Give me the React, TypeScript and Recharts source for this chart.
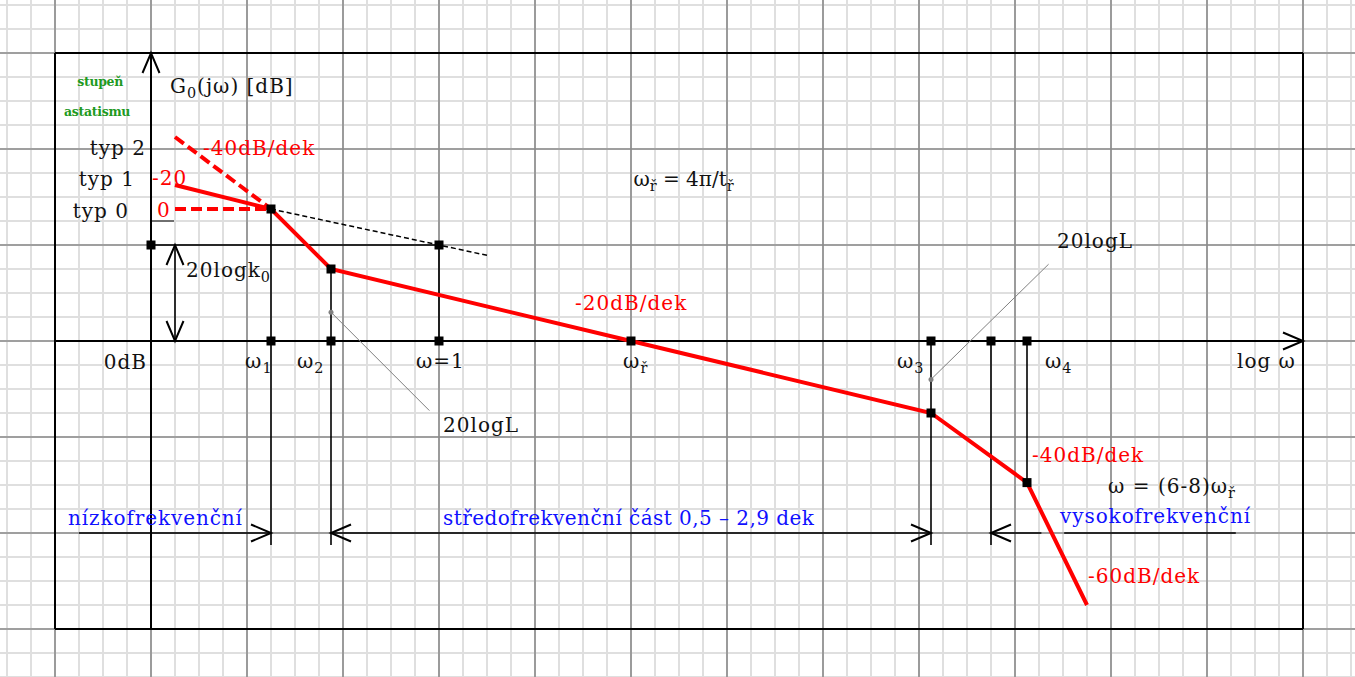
import React from 'react';
import { ComposedChart, XAxis, YAxis, Line, Scatter, ReferenceLine } from 'recharts';

// Units: one small grid cell in both directions, origin where the axes cross.
// u runs along log ω, v along the magnitude in dB.
const WIDTH = 1355;
const HEIGHT = 677;
const CELL = 24;
const ORIGIN_X = 151;
const ORIGIN_Y = 341;

// asymptotic magnitude plot of the open loop
const bodeU = [1, 5, 7.5, 20, 32.5, 36.5, 39];
const bodeV = [6.5, 5.5, 3, 0, -3, -5.9, -11];

// low-frequency variants (type 0 and type 2 systems)
const typ0U = [1, 5];
const typ0V = [5.5, 5.5];
const typ2U = [1, 5];
const typ2V = [8.5, 5.5];

// -20 dB/dek extension through ω = 1
const k0U = [5, 14];
const k0V = [5.5, 3.57];

// marked points
const markU = [0, 12, 5, 5, 7.5, 7.5, 12, 20, 32.5, 32.5, 35, 36.5, 36.5];
const markV = [4, 4, 5.5, 0, 3, 0, 0, 0, 0, -3, 0, 0, -5.9];

// vertical drop lines from the corner frequencies
const dropU = [5, 7.5, 12, 32.5, 35, 36.5];
const dropTop = [5.5, 3, 4, 0, 0, 0];
const dropBottom = [-8.5, -8.5, 0, -8.5, -8.5, -5.9];

// leaders pointing at 20logL
const leaderU = [[7.5, 11.6], [32.5, 37.4]];
const leaderV = [[1.2, -2.9], [-1.6, 3.2]];

// frequency band ranges along the bottom
const bandV = -8;
const bandU = [[-3, 5], [7.5, 32.5], [35, 37.1], [38.05, 45.2]];
const bandArrowRight = [5, 32.5];
const bandArrowLeft = [7.5, 35];

// plot frame
const frameU = [-4, 48];
const frameV = [-12, 12];

const labelText = [
  'stupeň', 'astatismu', 'G_0(jω) [dB]', 'typ 2', 'typ 1', 'typ 0', '-40dB/dek', '-20', '0',
  'ω_ř = 4π/t_ř', '20logk_0', '0dB', 'ω_1', 'ω_2', 'ω=1', 'ω_ř', 'ω_3', 'ω_4', 'log ω',
  '-20dB/dek', '20logL', '20logL', '-40dB/dek', 'ω = (6-8)ω_ř',
  'nízkofrekvenční', 'středofrekvenční část 0,5 – 2,9 dek', 'vysokofrekvenční', '-60dB/dek',
];
const labelU = [
  -2.12, -2.25, 0.79, -0.21, -0.67, -0.92, 2.17, 0.04, 0.25,
  20.1, 1.46, -0.17, 3.92, 6.08, 11.04, 19.67, 31.08, 37.25, 45.25,
  17.67, 12.17, 37.75, 36.71, 39.88,
  -3.46, 12.17, 37.88, 39.04,
];
const labelV = [
  10.62, 9.38, 10.33, 7.75, 6.46, 5.12, 7.75, 6.5, 5.17,
  6.46, 2.67, -1.17, -1.12, -1.12, -1.12, -1.12, -1.12, -1.12, -1.12,
  1.29, -3.79, 3.88, -5.04, -6.33,
  -7.67, -7.67, -7.58, -10.08,
];
const labelKind = [
  'green', 'green', 'black', 'blackEnd', 'blackEnd', 'blackEnd', 'red', 'red', 'red',
  'blackTight', 'black', 'blackEnd', 'black', 'black', 'black', 'black', 'black', 'black', 'black',
  'red', 'black', 'black', 'red', 'black',
  'blue', 'blueTight', 'blue', 'red',
];

const FONT = '"DejaVu Serif", serif';
const kindStyle: Record<string, any> = {
  green: { fill: '#1f9a1f', fontSize: 12.5, fontWeight: 'bold', anchor: 'middle', spacing: -0.3 },
  black: { fill: '#111', fontSize: 20, fontWeight: 'normal', anchor: 'start', spacing: 1 },
  blackTight: { fill: '#111', fontSize: 20, fontWeight: 'normal', anchor: 'start', spacing: 0 },
  blackEnd: { fill: '#111', fontSize: 20, fontWeight: 'normal', anchor: 'end', spacing: 1 },
  red: { fill: '#ff0000', fontSize: 20, fontWeight: 'normal', anchor: 'start', spacing: 1 },
  blue: { fill: '#1010ff', fontSize: 20, fontWeight: 'normal', anchor: 'start', spacing: 0.9 },
  blueTight: { fill: '#1010ff', fontSize: 20, fontWeight: 'normal', anchor: 'start', spacing: 0.45 },
};

const pts = (us: number[], vs: number[]) => us.map((u, i) => ({ u, v: vs[i] }));

// open "V" arrow head; dir is the direction the tip points to
const ARROW_LEN = 20 / CELL;
const ARROW_HALF = 8.5 / CELL;
function arrowHead(u: number, v: number, dir: 'up' | 'down' | 'left' | 'right') {
  if (dir === 'up') return [{ u: u - ARROW_HALF, v: v - ARROW_LEN }, { u, v }, { u: u + ARROW_HALF, v: v - ARROW_LEN }];
  if (dir === 'down') return [{ u: u - ARROW_HALF, v: v + ARROW_LEN }, { u, v }, { u: u + ARROW_HALF, v: v + ARROW_LEN }];
  if (dir === 'left') return [{ u: u + ARROW_LEN, v: v + ARROW_HALF }, { u, v }, { u: u + ARROW_LEN, v: v - ARROW_HALF }];
  return [{ u: u - ARROW_LEN, v: v + ARROW_HALF }, { u, v }, { u: u - ARROW_LEN, v: v - ARROW_HALF }];
}

const minorU = Array.from({ length: 57 }, (_, i) => i - 6);
const minorV = Array.from({ length: 29 }, (_, i) => i - 14);
const majorU = minorU.filter((u) => u % 4 === 0);
const majorV = minorV.filter((v) => v % 4 === 0 && Math.abs(v) <= 12);

function RichText(props: any) {
  const { cx, cy, payload } = props;
  const st = kindStyle[payload.kind];
  const parts = String(payload.text).split(/(_.)/u).filter((p: string) => p !== '');
  let inSub = false;
  return (
    <text
      x={cx}
      y={cy}
      fill={st.fill}
      fontSize={st.fontSize}
      fontWeight={st.fontWeight}
      fontFamily={FONT}
      textAnchor={st.anchor}
      letterSpacing={st.spacing}
    >
      {parts.map((p: string, i: number) => {
        if (p.length === 2 && p[0] === '_') {
          inSub = true;
          return (
            <tspan key={i} dy={5} fontSize={st.fontSize * 0.72}>
              {p[1]}
            </tspan>
          );
        }
        const dy = inSub ? -5 : 0;
        inSub = false;
        return (
          <tspan key={i} dy={dy}>
            {p}
          </tspan>
        );
      })}
    </text>
  );
}

const Square = (props: any) => (
  <rect x={props.cx - 4.5} y={props.cy - 4.5} width={9} height={9} fill="#000" />
);

const GrayDot = (props: any) => <circle cx={props.cx} cy={props.cy} r={2.5} fill="#808080" />;

export default function App() {
  const labels = labelText.map((text, i) => ({ u: labelU[i], v: labelV[i], text, kind: labelKind[i] }));
  const arrows = [
    arrowHead(0, 12, 'up'),
    arrowHead(48, 0, 'right'),
    arrowHead(1, 4, 'up'),
    arrowHead(1, 0, 'down'),
    ...bandArrowRight.map((u) => arrowHead(u, bandV, 'right')),
    ...bandArrowLeft.map((u) => arrowHead(u, bandV, 'left')),
  ];
  const black = { stroke: '#000', strokeWidth: 1.6 };
  const [fu0, fu1] = frameU;
  const [fv0, fv1] = frameV;
  const frame = [
    [{ x: fu0, y: fv0 }, { x: fu1, y: fv0 }],
    [{ x: fu0, y: fv1 }, { x: fu1, y: fv1 }],
    [{ x: fu0, y: fv0 }, { x: fu0, y: fv1 }],
    [{ x: fu1, y: fv0 }, { x: fu1, y: fv1 }],
  ];

  return (
    <div style={{ position: 'absolute', left: 0, top: 0, width: WIDTH, height: HEIGHT, background: '#fff' }}>
      <ComposedChart width={WIDTH} height={HEIGHT} margin={{ top: 0, right: 0, bottom: 0, left: 0 }}>
        <XAxis
          type="number"
          dataKey="u"
          domain={[-ORIGIN_X / CELL, (WIDTH - ORIGIN_X) / CELL]}
          allowDataOverflow
          hide
        />
        <YAxis
          type="number"
          dataKey="v"
          domain={[-(HEIGHT - ORIGIN_Y) / CELL, ORIGIN_Y / CELL]}
          allowDataOverflow
          hide
        />

        {/* grid paper */}
        {minorU.map((u) => (
          <ReferenceLine key={'mu' + u} x={u} stroke="#dfdfdf" strokeWidth={2} />
        ))}
        {minorV.map((v) => (
          <ReferenceLine key={'mv' + v} y={v} stroke="#dfdfdf" strokeWidth={2} />
        ))}
        {majorU.map((u) => (
          <ReferenceLine key={'Mu' + u} x={u} stroke="#8a8a8a" strokeWidth={1.6} />
        ))}
        {majorV.map((v) => (
          <ReferenceLine key={'Mv' + v} y={v} stroke="#8a8a8a" strokeWidth={1.6} />
        ))}

        {/* frame and axes */}
        {frame.map((s, i) => (
          <ReferenceLine key={'f' + i} segment={s} stroke="#000" strokeWidth={2} />
        ))}
        <ReferenceLine segment={[{ x: 0, y: -12 }, { x: 0, y: 12 }]} stroke="#000" strokeWidth={2} />
        <ReferenceLine segment={[{ x: -4, y: 0 }, { x: 48, y: 0 }]} stroke="#000" strokeWidth={2} />

        {/* construction lines */}
        <ReferenceLine segment={[{ x: 0, y: 4 }, { x: 12, y: 4 }]} {...black} />
        <ReferenceLine segment={[{ x: 1, y: 4 }, { x: 1, y: 0 }]} {...black} />
        <ReferenceLine segment={[{ x: 0, y: 5 }, { x: 0.96, y: 5 }]} stroke="#000" strokeWidth={1} />
        {dropU.map((u, i) => (
          <ReferenceLine key={'d' + i} segment={[{ x: u, y: dropTop[i] }, { x: u, y: dropBottom[i] }]} {...black} />
        ))}
        {bandU.map(([a, b], i) => (
          <ReferenceLine key={'b' + i} segment={[{ x: a, y: bandV }, { x: b, y: bandV }]} {...black} />
        ))}
        {leaderU.map(([a, b], i) => (
          <ReferenceLine
            key={'l' + i}
            segment={[{ x: a, y: leaderV[i][0] }, { x: b, y: leaderV[i][1] }]}
            stroke="#808080"
            strokeWidth={1}
          />
        ))}
        {arrows.map((a, i) => (
          <Line
            key={'a' + i}
            data={a}
            dataKey="v"
            type="linear"
            stroke="#000"
            strokeWidth={2}
            dot={false}
            activeDot={false}
            isAnimationActive={false}
          />
        ))}
        <Line
          data={pts(k0U, k0V)}
          dataKey="v"
          type="linear"
          stroke="#000"
          strokeWidth={1.5}
          strokeDasharray="5 3"
          dot={false}
          activeDot={false}
          isAnimationActive={false}
        />

        {/* magnitude asymptotes */}
        <Line
          data={pts(typ0U, typ0V)}
          dataKey="v"
          type="linear"
          stroke="#ff0000"
          strokeWidth={4}
          strokeDasharray="11 5"
          dot={false}
          activeDot={false}
          isAnimationActive={false}
        />
        <Line
          data={pts(typ2U, typ2V)}
          dataKey="v"
          type="linear"
          stroke="#ff0000"
          strokeWidth={4}
          strokeDasharray="11 5"
          dot={false}
          activeDot={false}
          isAnimationActive={false}
        />
        <Line
          data={pts(bodeU, bodeV)}
          dataKey="v"
          type="linear"
          stroke="#ff0000"
          strokeWidth={4}
          dot={false}
          activeDot={false}
          isAnimationActive={false}
        />

        <Scatter data={pts(markU, markV)} dataKey="v" shape={Square} isAnimationActive={false} />
        <Scatter
          data={leaderU.map((l, i) => ({ u: l[0], v: leaderV[i][0] }))}
          dataKey="v"
          shape={GrayDot}
          isAnimationActive={false}
        />
        <Scatter data={labels} dataKey="v" shape={RichText} isAnimationActive={false} />
      </ComposedChart>
    </div>
  );
}
